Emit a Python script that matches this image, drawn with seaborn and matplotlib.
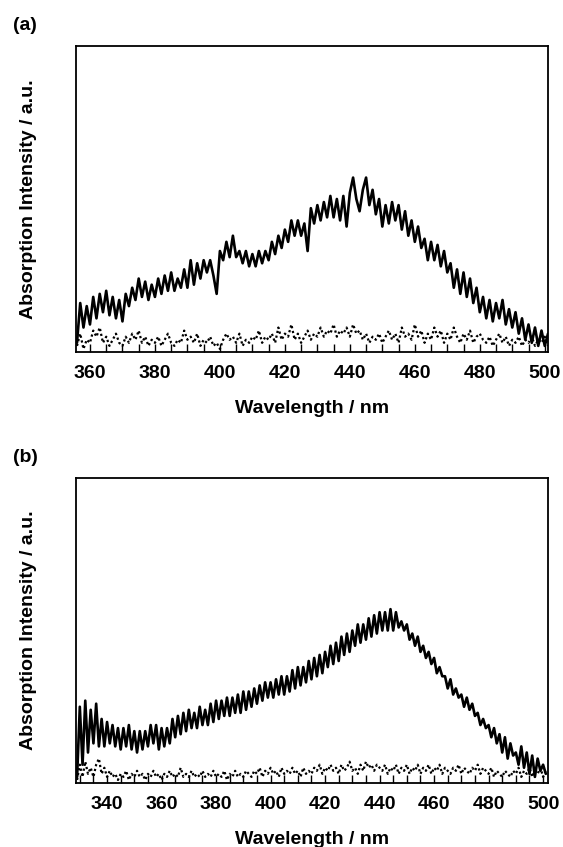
import numpy as np
import pandas as pd
import matplotlib
matplotlib.use("Agg")
import matplotlib.pyplot as plt
from matplotlib.ticker import MultipleLocator
import seaborn as sns

# ---------------- data ----------------
wl_a = list(range(356, 502))
solid_a = [3, 16, 8, 15, 9, 18, 11, 19, 13, 20,
           12, 18, 11, 17, 10, 19, 15, 21, 17, 24,
           18, 23, 17, 22, 18, 24, 19, 25, 20, 26,
           20, 24, 21, 27, 21, 30, 22, 29, 24, 30,
           26, 30, 25, 19, 33, 30, 36, 31, 38, 31,
           33, 29, 33, 28, 32, 28, 33, 29, 33, 30,
           36, 32, 38, 34, 40, 36, 43, 38, 43, 38,
           42, 33, 47, 42, 48, 43, 49, 44, 51, 44,
           50, 43, 51, 41, 52, 57, 50, 46, 53, 57,
           48, 53, 45, 50, 41, 48, 42, 49, 43, 48,
           40, 46, 38, 43, 36, 41, 34, 37, 30, 36,
           30, 35, 28, 33, 26, 29, 21, 27, 19, 26,
           18, 24, 16, 21, 13, 18, 11, 17, 10, 16,
           11, 17, 9, 14, 8, 13, 6, 11, 4, 9,
           3, 8, 2, 7, 2, 6]
dotted_a = [2, 6, 1, 4, 3, 7, 5, 8, 3, 5, 2, 4, 6, 3, 2, 5, 3, 6, 4, 7,
            3, 5, 2, 4, 3, 5, 2, 4, 6, 3, 2, 4, 3, 7, 4, 5, 3, 6, 2, 4,
            3, 5, 2, 3, 1, 4, 6, 4, 5, 3, 6, 2, 4, 3, 5, 4, 7, 3, 5, 4,
            6, 3, 8, 4, 6, 5, 9, 4, 6, 3, 5, 7, 4, 6, 5, 8, 5, 7, 6, 9,
            5, 7, 6, 8, 5, 9, 6, 7, 4, 6, 3, 5, 4, 6, 3, 5, 7, 4, 6, 3,
            8, 5, 6, 4, 9, 5, 7, 3, 6, 4, 8, 5, 7, 3, 6, 4, 8, 5, 3, 6,
            4, 7, 3, 5, 6, 4, 3, 5, 2, 4, 6, 3, 5, 2, 4, 3, 5, 2, 4, 3,
            5, 2, 4, 3, 5, 2]

wl_b = list(range(329, 502))
solid_b = [2, 25, 6, 27, 10, 24, 13, 26, 12, 21,
           12, 20, 13, 19, 12, 18, 11, 18, 12, 19,
           11, 17, 10, 17, 11, 17, 12, 19, 13, 19,
           11, 18, 12, 18, 13, 21, 15, 22, 16, 23,
           17, 24, 18, 23, 18, 25, 19, 24, 19, 26,
           20, 27, 21, 27, 22, 28, 22, 28, 23, 29,
           23, 30, 24, 30, 25, 31, 26, 32, 27, 33,
           28, 33, 28, 34, 29, 35, 29, 35, 30, 37,
           31, 38, 32, 38, 33, 40, 34, 41, 35, 42,
           36, 43, 38, 45, 39, 46, 40, 48, 42, 49,
           43, 50, 45, 52, 46, 52, 47, 54, 48, 55,
           49, 56, 50, 56, 50, 57, 50, 56, 51, 53,
           50, 52, 47, 49, 45, 48, 43, 45, 41, 43,
           39, 41, 36, 38, 35, 35, 31, 34, 29, 31,
           28, 29, 25, 28, 24, 26, 22, 23, 19, 21,
           18, 19, 15, 18, 13, 16, 10, 15, 8, 13,
           9, 10, 6, 12, 5, 10, 3, 9, 2, 8,
           4, 6, 3]
dotted_b = [1, 6, 2, 7, 3, 5, 2, 6, 8, 3, 5, 2, 4, 2, 3, 1, 3, 2, 4, 1,
            3, 2, 4, 2, 3, 1, 3, 2, 4, 2, 3, 1, 3, 2, 4, 2, 3, 2, 5, 2,
            3, 2, 4, 2, 3, 2, 4, 2, 3, 2, 4, 2, 3, 2, 4, 1, 3, 2, 4, 2,
            3, 2, 4, 3, 2, 4, 3, 5, 2, 4, 3, 5, 3, 4, 2, 5, 3, 4, 3, 5,
            3, 4, 2, 5, 3, 4, 3, 5, 4, 6, 3, 5, 4, 6, 4, 5, 3, 6, 4, 5,
            7, 4, 5, 3, 6, 4, 7, 5, 6, 4, 6, 5, 4, 6, 3, 5, 4, 6, 3, 5,
            4, 6, 3, 5, 4, 6, 3, 5, 4, 6, 3, 5, 4, 6, 3, 5, 4, 3, 5, 4,
            6, 3, 5, 4, 3, 5, 4, 6, 3, 5, 4, 3, 5, 2, 4, 3, 2, 4, 3, 2,
            4, 3, 5, 2, 4, 3, 5, 2, 4, 3, 5, 2, 4]

panel_labels = ["(a)", "(b)"]
x_label = "Wavelength / nm"
y_label = "Absorption Intensity / a.u."

df_a = pd.DataFrame({"wl": wl_a, "solid": solid_a, "dotted": dotted_a})
df_b = pd.DataFrame({"wl": wl_b, "solid": solid_b, "dotted": dotted_b})

# ---------------- style ----------------
sns.set_style("white")
plt.rcParams["font.family"] = ["Liberation Sans", "DejaVu Sans"]
plt.rcParams["font.weight"] = "bold"
plt.rcParams["text.color"] = "black"
plt.rcParams["axes.labelcolor"] = "black"
plt.rcParams["xtick.color"] = "black"
plt.rcParams["ytick.color"] = "black"

fig = plt.figure(figsize=(5.63, 8.47), dpi=100)
ax_a = fig.add_axes([76 / 563, (847 - 352) / 847, 472 / 563, 306 / 847])
ax_b = fig.add_axes([76 / 563, (847 - 783) / 847, 472 / 563, 305 / 847])

configs = [(ax_a, df_a, (355.7, 501.0), panel_labels[0], 26),
           (ax_b, df_b, (328.6, 501.8), panel_labels[1], 457)]

for ax, df, xl, lab, ylab_px in configs:
    sns.lineplot(data=df, x="wl", y="solid", ax=ax, color="black", linewidth=1.9)
    sns.lineplot(data=df, x="wl", y="dotted", ax=ax, color="black", linewidth=1.6,
                 dashes=False, linestyle=(0, (1, 1.2)))
    ax.set_xlim(*xl)
    ax.set_ylim(0, 100)
    ax.xaxis.set_major_locator(MultipleLocator(20))
    ax.xaxis.set_minor_locator(MultipleLocator(5))
    ax.tick_params(axis="x", which="both", direction="in", length=6, width=1.0,
                   colors="black", bottom=True, top=False, pad=9, labelsize=14)
    ax.tick_params(axis="y", which="both", left=False, right=False, labelleft=False)
    for lbl in ax.get_xticklabels():
        lbl.set_fontweight("bold")
        lbl.set_color("black")
    for s in ax.spines.values():
        s.set_visible(True)
        s.set_color("black")
        s.set_linewidth(1.3)
    ax.set_xlabel(x_label, fontsize=14, fontweight="bold", labelpad=13, color="black")
    ax.set_ylabel(y_label, fontsize=14, fontweight="bold", labelpad=28, color="black")
    fig.text(13 / 563, 1 - ylab_px / 847, lab, ha="left", va="center",
             fontsize=14, fontweight="bold", color="black")

fig.savefig("out.png", dpi=100)
